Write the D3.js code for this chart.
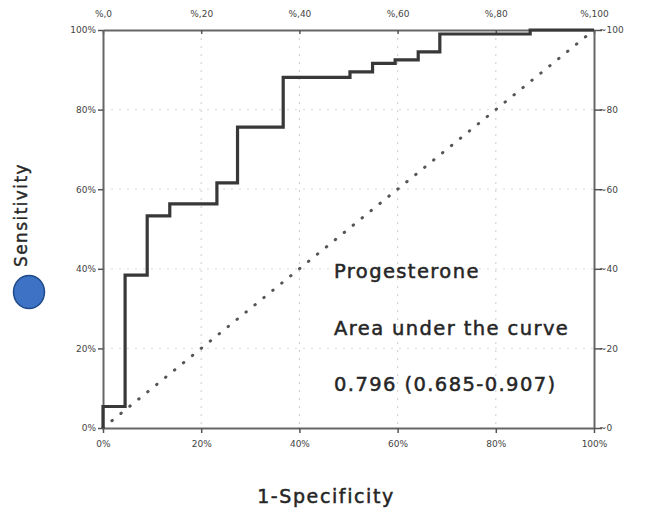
<!DOCTYPE html>
<html>
<head>
<meta charset="utf-8">
<script src="https://cdn.jsdelivr.net/npm/d3@7"></script>
<style>
body { margin: 0; background: #fff; }
svg { display: block; }
</style>
</head>
<body>
<div id="chart"></div>
<script>
var w = 652, h = 511;
var margin = {left: 103, right: 58, top: 30, bottom: 83};

// ROC curve (1-specificity %, sensitivity %)
var fpr = [0, 0, 4.5, 4.5, 9.0, 9.0, 13.6, 13.6, 23.2, 23.2, 27.4, 27.4, 36.7, 36.7,
           50.3, 50.3, 54.9, 54.9, 59.5, 59.5, 64.2, 64.2, 68.6, 68.6, 87.0, 87.0, 100];
var tpr = [0, 5.4, 5.4, 38.4, 38.4, 53.3, 53.3, 56.3, 56.3, 61.6, 61.6, 75.6, 75.6, 88.1,
           88.1, 89.5, 89.5, 91.6, 91.6, 92.5, 92.5, 94.5, 94.5, 99.0, 99.0, 100, 100];
var tickVals = [0, 20, 40, 60, 80, 100];
var leftLabels = ["0%", "20%", "40%", "60%", "80%", "100%"];
var bottomLabels = ["0%", "20%", "40%", "60%", "80%", "100%"];
var topLabels = ["%,0", "%,20", "%,40", "%,60", "%,80", "%,100"];
var rightLabels = ["~0", "~20", "~40", "~60", "~80", "~100"];
var legendLines = ["Progesterone", "Area under the curve", "0.796 (0.685-0.907)"];

var font = "'DejaVu Sans', sans-serif";

var svg = d3.select("#chart").append("svg")
    .attr("width", w)
    .attr("height", h);

var x = d3.scaleLinear().domain([0, 100]).range([margin.left, w - margin.right]);
var y = d3.scaleLinear().domain([0, 100]).range([h - margin.bottom, margin.top]);

// faint dotted grid
var grid = svg.append("g").attr("class", "grid");
grid.selectAll(".gx")
    .data(tickVals.slice(1, 5))
    .enter().append("line")
    .attr("x1", function(d) { return x(d); })
    .attr("x2", function(d) { return x(d); })
    .attr("y1", y(100)).attr("y2", y(0))
    .attr("stroke", "#d4d4d4")
    .attr("stroke-width", 1.2)
    .attr("stroke-dasharray", "2,6");
grid.selectAll(".gy")
    .data(tickVals.slice(1, 5))
    .enter().append("line")
    .attr("y1", function(d) { return y(d); })
    .attr("y2", function(d) { return y(d); })
    .attr("x1", x(0)).attr("x2", x(100))
    .attr("stroke", "#e0e0e0")
    .attr("stroke-width", 1.2)
    .attr("stroke-dasharray", "2,6");

function styleAxis(g) {
    g.select(".domain").attr("stroke", "#666").attr("stroke-width", 2);
    g.selectAll(".tick line").attr("stroke", "#555").attr("stroke-width", 1.5);
    g.selectAll(".tick text")
        .attr("fill", "#444")
        .style("font-family", font)
        .style("font-size", "9px");
}

var xb = d3.axisBottom(x).tickValues(tickVals).tickSize(5).tickSizeOuter(0)
    .tickFormat(function(d, i) { return bottomLabels[i]; });
var xt = d3.axisTop(x).tickValues(tickVals).tickSize(-4).tickSizeOuter(0)
    .tickFormat(function(d, i) { return topLabels[i]; });
var yl = d3.axisLeft(y).tickValues(tickVals).tickSize(5).tickSizeOuter(0)
    .tickFormat(function(d, i) { return leftLabels[i]; });
var yr = d3.axisRight(y).tickValues(tickVals).tickSize(8).tickSizeOuter(0)
    .tickFormat(function(d, i) { return rightLabels[i]; });

svg.append("g").attr("transform", "translate(0," + y(0) + ")").call(xb).call(styleAxis)
    .selectAll(".tick text").attr("dy", "1.2em");
svg.append("g").attr("transform", "translate(0," + y(100) + ")").call(xt).call(styleAxis)
    .selectAll(".tick text").attr("y", -13);
svg.append("g").attr("transform", "translate(" + x(0) + ",0)").call(yl).call(styleAxis)
    .selectAll(".tick text").attr("x", -7);
svg.append("g").attr("transform", "translate(" + x(100) + ",0)").call(yr).call(styleAxis)
    .selectAll(".tick text").attr("x", 5);

// reference diagonal
svg.append("line")
    .attr("x1", x(0)).attr("y1", y(0))
    .attr("x2", x(100)).attr("y2", y(100))
    .attr("stroke", "#555")
    .attr("stroke-width", 3)
    .attr("stroke-linecap", "round")
    .attr("stroke-dasharray", "0.5,11");

// ROC step curve
var line = d3.line()
    .x(function(d, i) { return x(fpr[i]); })
    .y(function(d, i) { return y(tpr[i]); });
svg.append("path")
    .attr("d", line(fpr))
    .attr("fill", "none")
    .attr("stroke", "#383838")
    .attr("stroke-width", 3.2);

// annotation text (slight stroke to thicken, like the original)
svg.selectAll(".legend")
    .data(legendLines)
    .enter().append("text")
    .attr("x", 334)
    .attr("y", function(d, i) { return 278 + i * 56.5; })
    .text(function(d) { return d; })
    .attr("fill", "#262626")
    .attr("stroke", "#262626")
    .attr("stroke-width", 0.5)
    .style("font-family", font)
    .style("font-size", "19.5px")
    .style("letter-spacing", "1.4px");

// axis titles
svg.append("text")
    .attr("x", 326)
    .attr("y", 503)
    .attr("text-anchor", "middle")
    .text("1-Specificity")
    .attr("fill", "#262626")
    .attr("stroke", "#262626")
    .attr("stroke-width", 0.5)
    .style("font-family", font)
    .style("font-size", "19px")
    .style("letter-spacing", "1.6px");

svg.append("text")
    .attr("transform", "translate(27,215) rotate(-90)")
    .attr("text-anchor", "middle")
    .text("Sensitivity")
    .attr("fill", "#262626")
    .attr("stroke", "#262626")
    .attr("stroke-width", 0.4)
    .style("font-family", font)
    .style("font-size", "17px")
    .style("letter-spacing", "1.4px");

svg.append("ellipse")
    .attr("cx", 29).attr("cy", 292)
    .attr("rx", 15.5).attr("ry", 16.5)
    .attr("fill", "#3d72c4")
    .attr("stroke", "#1f4a8a")
    .attr("stroke-width", 1.5);
</script>
</body>
</html>
